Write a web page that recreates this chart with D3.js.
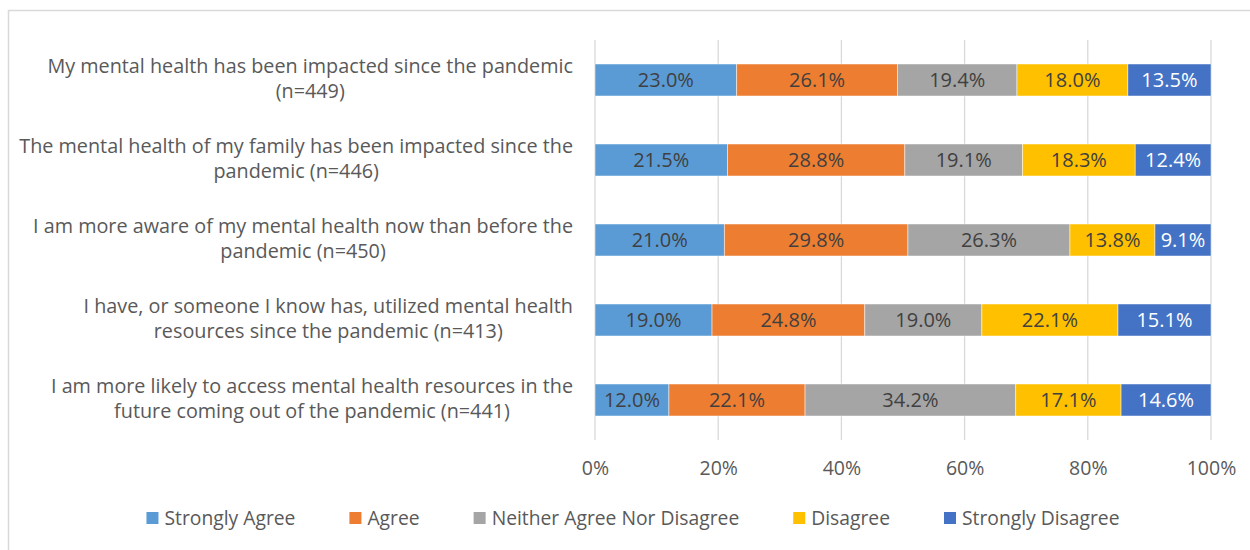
<!DOCTYPE html>
<html>
<head>
	<meta charset="UTF-8">
	<title>mental health</title>
	<script src="https://cdn.jsdelivr.net/npm/d3@7"></script>
	<style>
		body { margin: 0; background: #fff; }
		text { font-family: "Open Sans", Lato, sans-serif; }
	</style>
</head>
<body>
	<script type="text/javascript">
		// categories (each line of the label is one entry)
		var categories = [
			["My mental health has been impacted since the pandemic", "(n=449)"],
			["The mental health of my family has been impacted since the", "pandemic (n=446)"],
			["I am more aware of my mental health now than before the", "pandemic (n=450)"],
			["I have, or someone I know has, utilized mental health", "resources since the pandemic (n=413)"],
			["I am more likely to access mental health resources in the", "future coming out of the pandemic (n=441)"]
		];
		var seriesNames = ["Strongly Agree", "Agree", "Neither Agree Nor Disagree", "Disagree", "Strongly Disagree"];
		var stronglyAgree = [23.0, 21.5, 21.0, 19.0, 12.0];
		var agree = [26.1, 28.8, 29.8, 24.8, 22.1];
		var neither = [19.4, 19.1, 26.3, 19.0, 34.2];
		var disagree = [18.0, 18.3, 13.8, 22.1, 17.1];
		var stronglyDisagree = [13.5, 12.4, 9.1, 15.1, 14.6];
		var tickValues = [0, 20, 40, 60, 80, 100];

		var colors = ["#5b9bd5", "#ed7d31", "#a5a5a5", "#ffc000", "#4472c4"];
		var labelColors = ["#404040", "#404040", "#404040", "#404040", "#ffffff"];

		var allSeries = [stronglyAgree, agree, neither, disagree, stronglyDisagree];

		//create the canvas
		var svg = d3.select("body").append("svg")
			.attr("width", 1250)
			.attr("height", 550);

		// chart border
		svg.append("rect")
			.attr("x", 8.5).attr("y", 10.5)
			.attr("width", 1260).attr("height", 560)
			.attr("fill", "none")
			.attr("stroke", "#d9d9d9")
			.attr("stroke-width", 1.5);

		var x = d3.scaleLinear().domain([0, 100]).range([595, 1211]);
		var y = d3.scaleBand().domain(d3.range(categories.length)).range([40, 440]).paddingInner(0.6).paddingOuter(0.3);

		// gridlines
		svg.append("g")
			.selectAll("line")
			.data(tickValues)
			.join("line")
			.attr("x1", d => x(d)).attr("x2", d => x(d))
			.attr("y1", 40).attr("y2", 440)
			.attr("stroke", "#d9d9d9")
			.attr("stroke-width", 1.3);

		// axis labels
		var axis = d3.axisBottom(x).tickValues(tickValues).tickFormat(d => d + "%").tickSize(0).tickPadding(0);
		var ax = svg.append("g").attr("transform", "translate(0,468)").call(axis);
		ax.select(".domain").remove();
		ax.selectAll("text")
			.attr("dy", "0.35em")
			.attr("fill", "#595959")
			.style("font-family", "'Open Sans', sans-serif")
			.style("font-size", "19.5px");

		// stacked bars
		var stack = categories.map(function(c, i) {
			var acc = 0;
			return allSeries.map(function(s, j) {
				var seg = { row: i, k: j, x0: acc, x1: acc + s[i], v: s[i] };
				acc += s[i];
				return seg;
			});
		});
		var segs = stack.flat();

		svg.append("g")
			.selectAll("rect")
			.data(segs)
			.join("rect")
			.attr("x", d => x(d.x0))
			.attr("width", d => x(Math.min(d.x1, 100)) - x(d.x0))
			.attr("y", d => y(d.row))
			.attr("height", y.bandwidth())
			.attr("fill", d => colors[d.k])
			.attr("stroke", "#ffffff")
			.attr("stroke-opacity", 0.6)
			.attr("stroke-width", 0.8);

		svg.append("g")
			.selectAll("text")
			.data(segs)
			.join("text")
			.attr("x", d => (x(d.x0) + x(Math.min(d.x1, 100))) / 2)
			.attr("y", d => y(d.row) + y.bandwidth() / 2)
			.attr("dy", "0.35em")
			.attr("text-anchor", "middle")
			.attr("fill", d => labelColors[d.k])
			.style("font-size", "20px")
			.text(d => d.v.toFixed(1) + "%");

		// category labels, centered lines, block right aligned
		var catG = svg.append("g");
		categories.forEach(function(lines, i) {
			var g = catG.append("g");
			var t = g.selectAll("text")
				.data(lines)
				.join("text")
				.attr("y", (d, j) => y(i) + y.bandwidth() / 2 - 1.5 + (j - 0.5) * 24.5)
				.attr("dy", "0.35em")
				.attr("text-anchor", "middle")
				.attr("fill", "#595959")
				.style("font-size", "19.8px")
				.text(d => d);
			var w = d3.max(t.nodes(), n => n.getComputedTextLength());
			t.attr("x", 573 - w / 2);
		});

		// legend
		var legend = svg.append("g");
		var items = legend.selectAll("g")
			.data(seriesNames)
			.join("g");
		items.append("rect")
			.attr("width", 12).attr("height", 12)
			.attr("y", 512)
			.attr("fill", (d, i) => colors[i]);
		items.append("text")
			.attr("x", 18)
			.attr("y", 518)
			.attr("dy", "0.35em")
			.attr("fill", "#595959")
			.style("font-size", "19.3px")
			.text(d => d);
		var pos = 0;
		var offs = [];
		items.each(function(d, i) {
			offs.push(pos);
			var w = d3.select(this).select("text").node().getComputedTextLength();
			pos += 18 + w + 54;
		});
		var total = pos - 54;
		var start = 633 - total / 2;
		items.attr("transform", (d, i) => "translate(" + (start + offs[i]) + ",0)");
	</script>
</body>
</html>
